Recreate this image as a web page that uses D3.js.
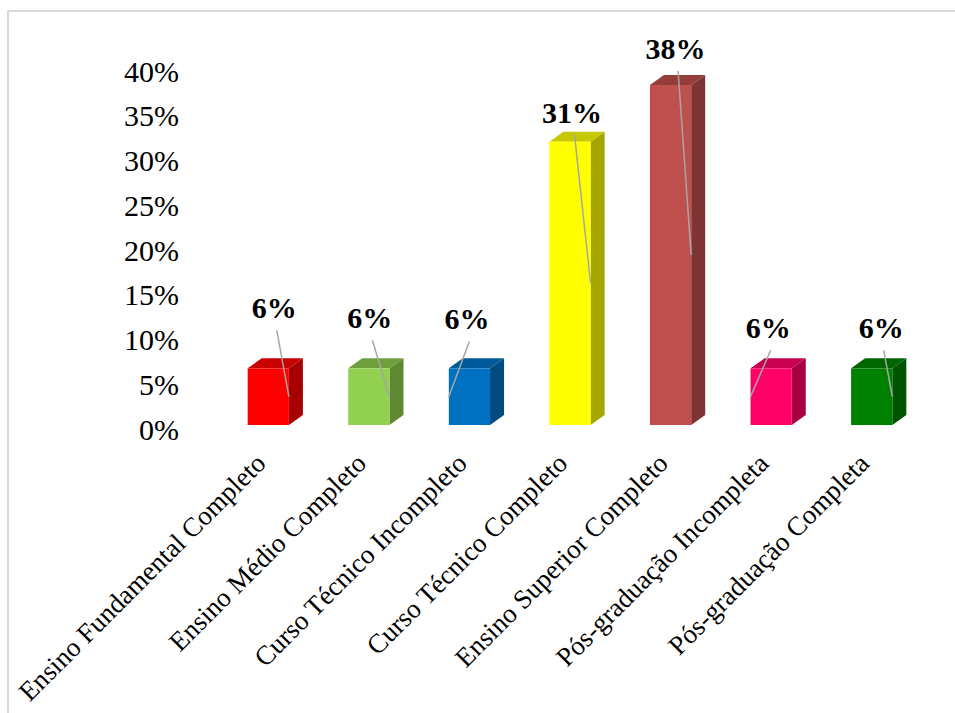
<!DOCTYPE html>
<html lang="pt">
<head>
<meta charset="utf-8">
<script src="https://cdn.jsdelivr.net/npm/d3@7"></script>
<style>
  html, body { margin: 0; padding: 0; background: #fff; }
  svg { display: block; }
  svg text { font-family: "Liberation Serif", "Times New Roman", "DejaVu Serif", serif !important; }
</style>
</head>
<body>
<svg id="chart" width="955" height="713"></svg>
<script>
// Escolaridade dos respondentes (fração do total)
const categories = [
  "Ensino Fundamental Completo",
  "Ensino Médio Completo",
  "Curso Técnico Incompleto",
  "Curso Técnico Completo",
  "Ensino Superior Completo",
  "Pós-graduação Incompleta",
  "Pós-graduação Completa"
];
const values = [6.25, 6.25, 6.25, 31.25, 37.5, 6.25, 6.25];
const valueLabels = ["6%", "6%", "6%", "31%", "38%", "6%", "6%"];
const yTicks = [0, 5, 10, 15, 20, 25, 30, 35, 40];
const tickLabels = ["0%", "5%", "10%", "15%", "20%", "25%", "30%", "35%", "40%"];

// Face colours for each bar: front, side, top
const frontColors = ["#ff0000", "#92d050", "#0070c0", "#ffff00", "#c0504d", "#ff0066", "#008000"];
const sideColors  = ["#a60000", "#5f8832", "#004a80", "#a6a600", "#7d3432", "#a60043", "#005300"];
const topColors   = ["#c80000", "#6f9f3c", "#005a9a", "#c8c800", "#953d3b", "#c80050", "#006600"];

// Placement of the value labels relative to each bar's front top (dx, dy)
const labelShift = [[6, -50], [1, -40], [-2.5, -39], [2, -19], [5, -26], [-3, -30], [9.5, -30]];
// Leader line ends on the right (1) or left (0) edge of the front face
const leaderSide = [1, 1, 0, 1, 1, 0, 1];

const svg = d3.select("#chart");
const W = 955, H = 713;

// Outer frame
svg.append("path")
  .attr("d", `M8,${H} L8,11 L${W},11`)
  .attr("fill", "none")
  .attr("stroke", "#d9d9d9")
  .attr("stroke-width", 2);

const baseline = 425;
const y = d3.scaleLinear().domain([0, 40]).range([baseline, baseline - 9.067 * 40]);
const yAxisScale = d3.scaleLinear().domain([0, 40]).range([429, 71]);

const x = d3.scaleBand().domain(categories).range([218, 922]).paddingInner(0.59).paddingOuter(0.295);

const depthX = 14, depthY = 10;

// Y axis labels (no axis line, no ticks)
const yAxis = d3.axisLeft(yAxisScale)
  .tickValues(yTicks)
  .tickFormat((d, i) => tickLabels[i])
  .tickSize(0)
  .tickPadding(0);
const gy = svg.append("g").attr("transform", "translate(179,0)").call(yAxis);
gy.attr("font-family", null);
gy.select(".domain").remove();
gy.selectAll("text")
  .attr("font-size", 30)
  .attr("fill", "#000")
  .attr("dy", "0.34em");

// 3D bars
const bars = svg.append("g").selectAll("g").data(categories).join("g");

bars.each(function(c, i) {
  const g = d3.select(this);
  const x0 = x(c), x1 = x(c) + x.bandwidth();
  const yt = y(values[i]), yb = y(0);
  // side face
  g.append("path")
    .attr("d", `M${x1},${yt} L${x1 + depthX},${yt - depthY} L${x1 + depthX},${yb - depthY} L${x1},${yb} Z`)
    .attr("fill", sideColors[i]);
  // top face
  g.append("path")
    .attr("d", `M${x0},${yt} L${x0 + depthX},${yt - depthY} L${x1 + depthX},${yt - depthY} L${x1},${yt} Z`)
    .attr("fill", topColors[i]);
  // front face
  g.append("rect")
    .attr("x", x0).attr("y", yt)
    .attr("width", x.bandwidth()).attr("height", yb - yt)
    .attr("fill", frontColors[i]);
});

// Value labels with leader lines
bars.each(function(c, i) {
  const g = d3.select(this);
  const cx = x(c) + x.bandwidth() / 2 + labelShift[i][0];
  const by = y(values[i]) + labelShift[i][1];
  const ex = leaderSide[i] ? x(c) + x.bandwidth() : x(c);
  const ey = y(values[i] / 2);
  g.append("line")
    .attr("x1", cx + 2.5).attr("y1", by + 12)
    .attr("x2", ex).attr("y2", ey)
    .attr("stroke", "#a6a6a6")
    .attr("stroke-width", 1.5);
  g.append("text")
    .attr("x", cx).attr("y", by)
    .attr("text-anchor", "middle")
    .attr("font-size", 30)
    .attr("font-weight", "bold")
    .attr("fill", "#000")
    .text(valueLabels[i]);
});

// Category labels, rotated
svg.append("g").selectAll("text").data(categories).join("text")
  .attr("transform", d => `translate(${x(d) + x.bandwidth() / 2 - 1},465) rotate(-45)`)
  .attr("text-anchor", "end")
  .attr("font-size", 27)
  .attr("fill", "#000")
  .text(d => d);
</script>
</body>
</html>
